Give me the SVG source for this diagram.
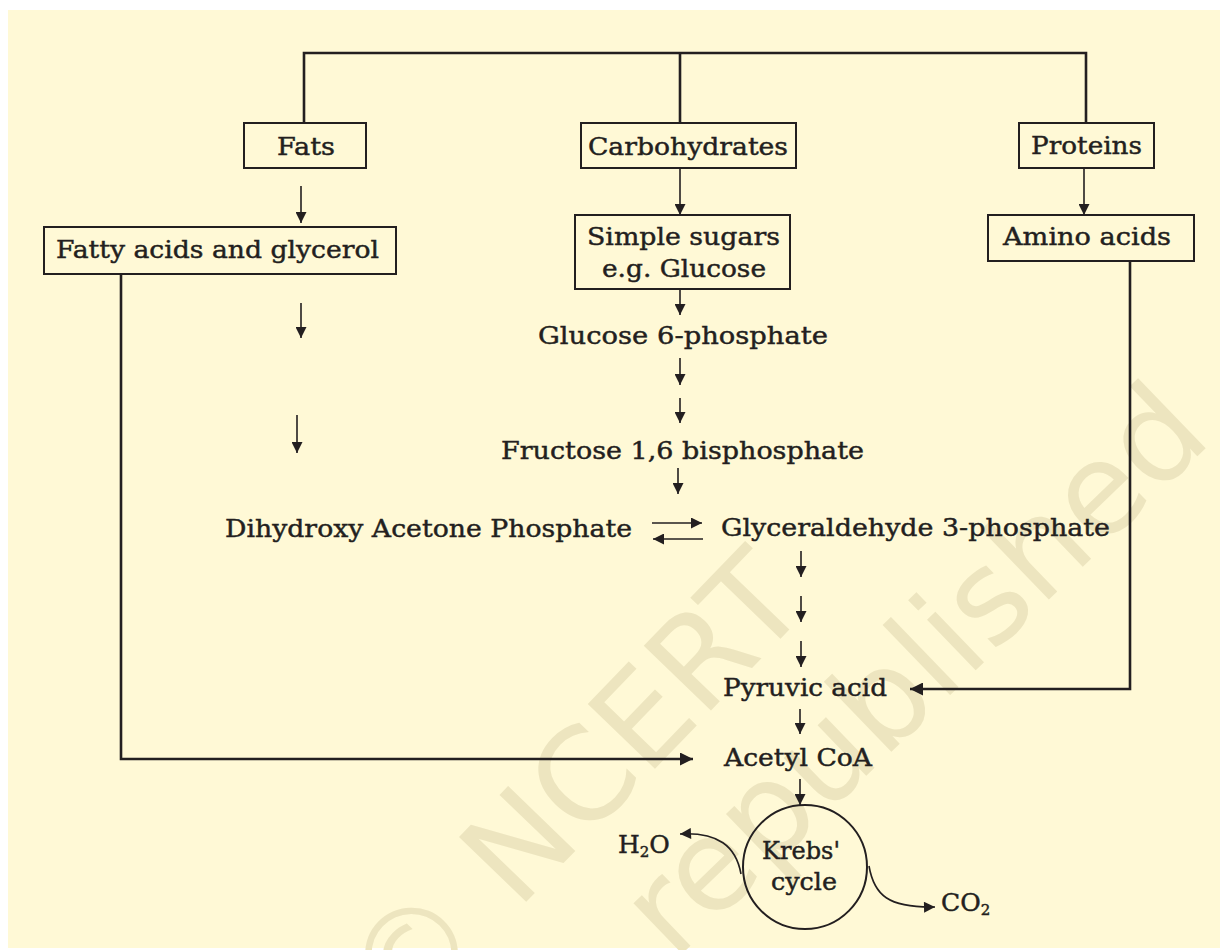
<svg xmlns="http://www.w3.org/2000/svg" width="1220" height="950" viewBox="0 0 1220 950">
  <style>
    .box { fill: none; stroke: #231F20; stroke-width: 2; }
    .lbl { font-family: "DejaVu Serif", "Liberation Serif", serif; font-size: 25px; fill: #231F20; stroke: #231F20; stroke-width: 0.45; }
    .thick { fill: none; stroke: #231F20; stroke-width: 2.6; }
    .thin { fill: none; stroke: #231F20; stroke-width: 1.6; }
    .wm { font-family: "DejaVu Sans", "Liberation Sans", sans-serif; font-size: 128px; fill: #EDE5BF; }
  </style>
  <defs>
    <marker id="ah" viewBox="0 0 10 10" refX="10" refY="5" markerUnits="userSpaceOnUse" markerWidth="14" markerHeight="13" orient="auto">
      <path d="M0,0 L10,5 L0,10 z" fill="#231F20"/>
    </marker>
    <marker id="ahs" viewBox="0 0 10 10" refX="10" refY="5" markerUnits="userSpaceOnUse" markerWidth="12" markerHeight="11" orient="auto">
      <path d="M0,0 L10,5 L0,10 z" fill="#231F20"/>
    </marker>
  </defs>

  <rect x="8" y="10" width="1212" height="938" fill="#FFF9D6"/>

  <g id="watermark">
    <text class="wm" x="812" y="606" text-anchor="end" transform="rotate(-46 812 606)">© NCERT</text>
    <text class="wm" x="1214" y="440" text-anchor="end" transform="rotate(-44 1214 440)">republished</text>
  </g>

  <g id="connectors">
    <path class="thick" d="M304,123 V53 H1086 V123"/>
    <path class="thick" d="M680,53 V123"/>
    <path class="thick" d="M121,274 V759 H693" marker-end="url(#ah)"/>
    <path class="thick" d="M1130,261 V689 H910" marker-end="url(#ah)"/>

    <line class="thin" x1="301" y1="186" x2="301" y2="223" marker-end="url(#ahs)"/>
    <line class="thin" x1="301" y1="303" x2="301" y2="338" marker-end="url(#ahs)"/>
    <line class="thin" x1="297" y1="415" x2="297" y2="453" marker-end="url(#ahs)"/>

    <line class="thin" x1="680" y1="168" x2="680" y2="215" marker-end="url(#ahs)"/>
    <line class="thin" x1="1084" y1="168" x2="1084" y2="215" marker-end="url(#ahs)"/>
    <line class="thin" x1="680" y1="289" x2="680" y2="315" marker-end="url(#ahs)"/>
    <line class="thin" x1="680" y1="358" x2="680" y2="385" marker-end="url(#ahs)"/>
    <line class="thin" x1="680" y1="398" x2="680" y2="423" marker-end="url(#ahs)"/>
    <line class="thin" x1="678" y1="468" x2="678" y2="494" marker-end="url(#ahs)"/>

    <line class="thin" x1="652" y1="523" x2="702" y2="523" marker-end="url(#ahs)"/>
    <line class="thin" x1="703" y1="539" x2="653" y2="539" marker-end="url(#ahs)"/>

    <line class="thin" x1="801" y1="551" x2="801" y2="577" marker-end="url(#ahs)"/>
    <line class="thin" x1="801" y1="596" x2="801" y2="622" marker-end="url(#ahs)"/>
    <line class="thin" x1="801" y1="641" x2="801" y2="667" marker-end="url(#ahs)"/>
    <line class="thin" x1="800" y1="709" x2="800" y2="734" marker-end="url(#ahs)"/>
    <line class="thin" x1="800" y1="779" x2="800" y2="805" marker-end="url(#ahs)"/>

    <path class="thin" d="M741,874 C736,846 718,832 680,834" marker-end="url(#ahs)"/>
    <path class="thin" d="M869,866 C874,895 888,908 935,907" marker-end="url(#ahs)"/>
  </g>

  <g id="fats">
    <rect class="box" x="244" y="123" width="122" height="45"/>
    <text class="lbl" x="277" y="155" textLength="58" lengthAdjust="spacingAndGlyphs">Fats</text>
  </g>
  <g id="carbohydrates">
    <rect class="box" x="581" y="123" width="215" height="45"/>
    <text class="lbl" x="588" y="155" textLength="200" lengthAdjust="spacingAndGlyphs">Carbohydrates</text>
  </g>
  <g id="proteins">
    <rect class="box" x="1019" y="123" width="135" height="45"/>
    <text class="lbl" x="1031" y="154" textLength="111" lengthAdjust="spacingAndGlyphs">Proteins</text>
  </g>
  <g id="fatty-acids">
    <rect class="box" x="44" y="227" width="352" height="47"/>
    <text class="lbl" x="56" y="258" textLength="323" lengthAdjust="spacingAndGlyphs">Fatty acids and glycerol</text>
  </g>
  <g id="simple-sugars">
    <rect class="box" x="575" y="215" width="215" height="74"/>
    <text class="lbl" x="587" y="245" textLength="193" lengthAdjust="spacingAndGlyphs">Simple sugars</text>
    <text class="lbl" x="602" y="277" textLength="164" lengthAdjust="spacingAndGlyphs">e.g. Glucose</text>
  </g>
  <g id="amino-acids">
    <rect class="box" x="988" y="215" width="206" height="46"/>
    <text class="lbl" x="1003" y="245" textLength="168" lengthAdjust="spacingAndGlyphs">Amino acids</text>
  </g>
  <g id="glucose-6-phosphate">
    <text class="lbl" x="538" y="344" textLength="290" lengthAdjust="spacingAndGlyphs">Glucose 6-phosphate</text>
  </g>
  <g id="fructose-bisphosphate">
    <text class="lbl" x="501" y="459" textLength="363" lengthAdjust="spacingAndGlyphs">Fructose 1,6 bisphosphate</text>
  </g>
  <g id="dhap">
    <text class="lbl" x="225" y="537" textLength="407" lengthAdjust="spacingAndGlyphs">Dihydroxy Acetone Phosphate</text>
  </g>
  <g id="g3p">
    <text class="lbl" x="721" y="536" textLength="389" lengthAdjust="spacingAndGlyphs">Glyceraldehyde 3-phosphate</text>
  </g>
  <g id="pyruvic-acid">
    <text class="lbl" x="723" y="696" textLength="164" lengthAdjust="spacingAndGlyphs">Pyruvic acid</text>
  </g>
  <g id="acetyl-coa">
    <text class="lbl" x="724" y="766" textLength="148" lengthAdjust="spacingAndGlyphs">Acetyl CoA</text>
  </g>
  <g id="krebs-cycle">
    <circle class="box" cx="805" cy="867" r="62"/>
    <text class="lbl" x="762" y="859" textLength="78" lengthAdjust="spacingAndGlyphs">Krebs'</text>
    <text class="lbl" x="771" y="890" textLength="66" lengthAdjust="spacingAndGlyphs">cycle</text>
  </g>
  <g id="h2o">
    <text class="lbl" x="618" y="853">H<tspan font-size="15" dy="4">2</tspan><tspan dy="-4">O</tspan></text>
  </g>
  <g id="co2">
    <text class="lbl" x="941" y="911">CO<tspan font-size="15" dy="4">2</tspan></text>
  </g>
</svg>
